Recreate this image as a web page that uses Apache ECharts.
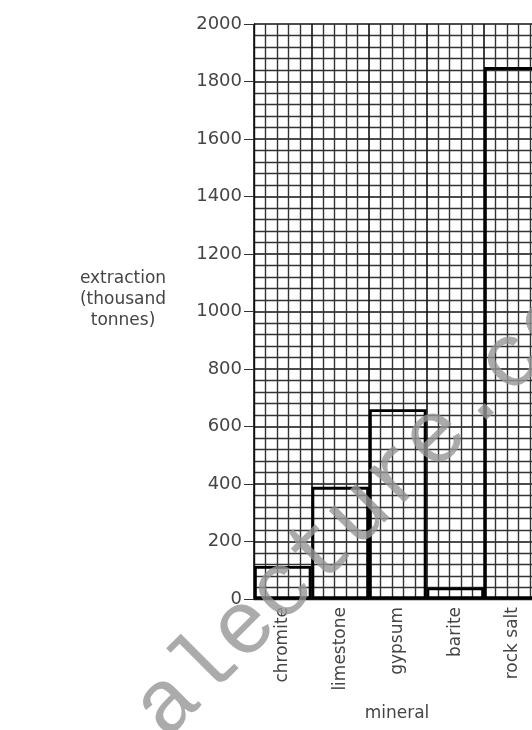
<!DOCTYPE html>
<html>
<head>
<meta charset="utf-8">
<script src="https://cdn.jsdelivr.net/npm/echarts@6/dist/echarts.min.js"></script>
<style>
html, body { margin: 0; padding: 0; background: #fff; }
#chart { width: 532px; height: 730px; }
</style>
</head>
<body>
<div id="chart"></div>
<script>
// minerals along the x axis (last slot is the empty column cut off at the right)
var minerals = ['chromite', 'limestone', 'gypsum', 'barite', 'rock salt', ''];
// extraction in thousand tonnes
var extraction = [115, 390, 660, 40, 1850, null];
// y axis ticks
var yMin = 0;
var yMax = 2000;
var yStep = 200;

var textColor = '#454545';
var textFont = 'DejaVu Sans';

var myChart = echarts.init(document.getElementById('chart'));

var options = {
    backgroundColor: '#fff',
    animation: false,
    grid: {
        left: 254,
        top: 24,
        width: 345,
        height: 575,
        outerBoundsMode: 'none',
        containLabel: false
    },
    xAxis: [
    {
        // labels + bars
        type: 'category',
        data: minerals,
        boundaryGap: true,
        axisLine: { show: true, lineStyle: { color: '#111', width: 1.4 } },
        axisTick: { show: false },
        axisLabel: {
            rotate: 90,
            margin: 8,
            fontSize: 17,
            color: textColor,
            fontFamily: textFont,
            interval: 0
        },
        splitLine: { show: false }
    },
    {
        // only for the vertical grid lines
        type: 'value',
        min: 0,
        max: 6,
        interval: 1,
        position: 'bottom',
        axisLine: { show: false },
        axisTick: { show: false },
        axisLabel: { show: false },
        minorTick: { show: false, splitNumber: 5 },
        splitLine: { show: true, lineStyle: { color: '#111', width: 1.6 } },
        minorSplitLine: { show: true, lineStyle: { color: '#333', width: 1.4 } }
    }],
    yAxis: {
        type: 'value',
        min: yMin,
        max: yMax,
        interval: yStep,
        axisLine: { show: true, lineStyle: { color: '#111', width: 1.4 } },
        axisTick: { show: true, length: 10, lineStyle: { color: '#333' } },
        axisLabel: {
            margin: 12,
            fontSize: 18,
            color: textColor,
            fontFamily: textFont,
            formatter: function (v) { return String(v); }
        },
        minorTick: { show: false, splitNumber: 5 },
        splitLine: { show: true, lineStyle: { color: '#111', width: 1.6 } },
        minorSplitLine: { show: true, lineStyle: { color: '#333', width: 1.4 } }
    },
    series: [
    {
        name: 'extraction',
        type: 'bar',
        xAxisIndex: 0,
        data: extraction,
        barCategoryGap: '0%',
        z: 5,
        itemStyle: {
            color: 'rgba(0,0,0,0)',
            borderColor: '#000',
            borderWidth: 2.8
        }
    }],
    graphic: [
    {
        type: 'text',
        x: 123,
        y: 268,
        style: {
            text: 'extraction\n(thousand\ntonnes)',
            align: 'center',
            verticalAlign: 'top',
            lineHeight: 21,
            fontSize: 17,
            fontFamily: textFont,
            fill: textColor
        }
    },
    {
        type: 'text',
        x: 397,
        y: 714,
        style: {
            text: 'mineral',
            align: 'center',
            verticalAlign: 'middle',
            fontSize: 17,
            fontFamily: textFont,
            fill: textColor
        }
    },
    {
        // watermark across the chart
        type: 'text',
        x: 149,
        y: 724,
        rotation: 45 * Math.PI / 180,
        z: 100,
        style: {
            text: 'alecture.com',
            align: 'left',
            verticalAlign: 'middle',
            fontSize: 90,
            fontFamily: 'Liberation Mono',
            fill: 'rgba(150,150,150,0.8)'
        }
    }]
};

myChart.setOption(options, true);
</script>
</body>
</html>
